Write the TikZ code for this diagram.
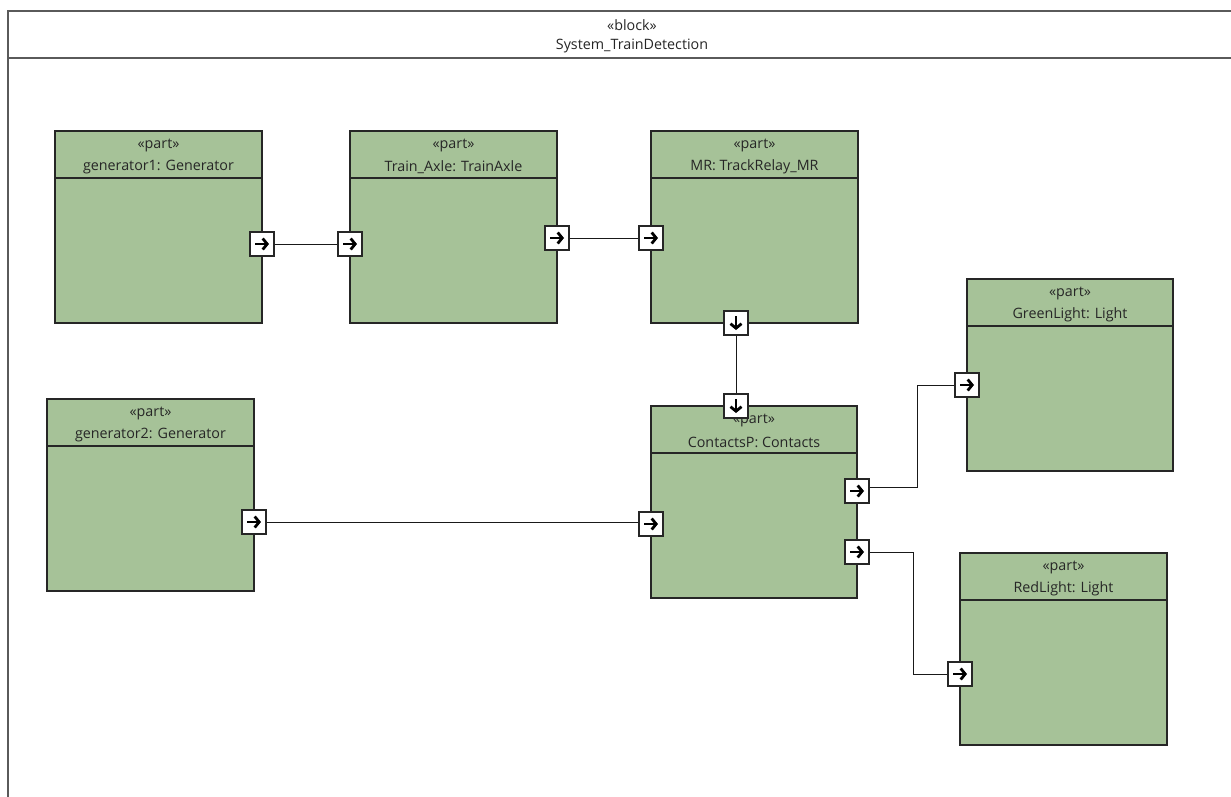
\documentclass[tikz,border=0pt]{standalone}
\usepackage{fontspec}
\setmainfont{Open Sans}
\usetikzlibrary{arrows.meta,calc}
\definecolor{partgreen}{RGB}{166,194,152}
\definecolor{framegray}{RGB}{90,90,90}
\tikzset{
  partbox/.style={draw=black!85, line width=1.2pt, fill=partgreen, anchor=north west,
    minimum width=207pt, minimum height=192pt, inner sep=0, outer sep=0},
  txt/.style={font=\fontsize{14.3}{16}\selectfont, inner sep=0, text=black!85},
  port/.style={draw=black!85, fill=white, line width=1.2pt, minimum size=24pt, inner sep=0},
  portR/.style={port, path picture={\draw[black, line width=2.8pt,-{Straight Barb[length=4.5pt,width=11pt]}]
      ([xshift=-7pt]path picture bounding box.center) -- ([xshift=7pt]path picture bounding box.center);}},
  portD/.style={port, path picture={\draw[black, line width=2.8pt,-{Straight Barb[length=4.5pt,width=11pt]}]
      ([yshift=7pt]path picture bounding box.center) -- ([yshift=-7pt]path picture bounding box.center);}},
  wire/.style={draw=black!90, line width=1pt},
  frame/.style={draw=framegray, line width=2pt},
}
\newcommand{\partblk}[5]{% name, x, y, width, title
  \node[partbox, minimum width=#4pt] (#1) at (#2,#3) {};
  \draw[draw=black!85, line width=1.2pt] ($(#1.north west)+(0,47)$) -- ($(#1.north east)+(0,47)$);
  \node[txt] (#1st) at ($(#1.north)+(0,14)$) {«part»};
  \node[txt] (#1nm) at ($(#1.north)+(0,36)$) {#5};
}
\begin{document}
\begin{tikzpicture}[x=1pt,y=-1pt]
\useasboundingbox (0,0) rectangle (1231,796);
\clip (0,0) rectangle (1231,796);
\fill[white] (0,0) rectangle (1231,796);
% outer block frame
\draw[frame] (1240,11) -- (8,11) -- (8,805);
\draw[frame] (8,58) -- (1240,58);
\node[txt] (blkst) at (632,25) {«block»};
\node[txt] (blknm) at (632,46) {System\_TrainDetection};
% parts
\partblk{gA}{55}{131}{207}{generator1: Generator}
\partblk{ta}{350}{131}{207}{Train\_Axle: TrainAxle}
\partblk{mr}{651}{131}{207}{MR: TrackRelay\_MR}
\partblk{gl}{967}{279}{206}{GreenLight: Light}
\partblk{gB}{47}{399}{207}{generator2: Generator}
\partblk{cp}{651}{406}{206}{ContactsP: Contacts}
\partblk{rl}{960}{553}{207}{RedLight: Light}
% ports
\node[portR] (p1) at (262,244) {};
\node[portR] (p2) at (350,244) {};
\node[portR] (p3) at (557,238) {};
\node[portR] (p4) at (651,238) {};
\node[portD] (p5) at (736,323) {};
\node[portD] (p6) at (736,406) {};
\node[portR] (p7) at (254,522) {};
\node[portR] (p8) at (651,524) {};
\node[portR] (p9) at (857,491) {};
\node[portR] (p10) at (967,385) {};
\node[portR] (p11) at (857,552) {};
\node[portR] (p12) at (960,674) {};
% connectors
\coordinate (e1) at (917,440);
\coordinate (e2) at (913,610);
\draw[wire] (p1.east) -- (p2.west);
\draw[wire] (p3.east) -- (p4.west);
\draw[wire] (p5.south) -- (p6.north);
\draw[wire] (p7.east) -- (p7.east -| p8.west);
\draw[wire] ([yshift=4pt]p9.east) -| (e1) |- (p10.west);
\draw[wire] (p11.east) -| (e2) |- (p12.west);
\end{tikzpicture}
\end{document}
